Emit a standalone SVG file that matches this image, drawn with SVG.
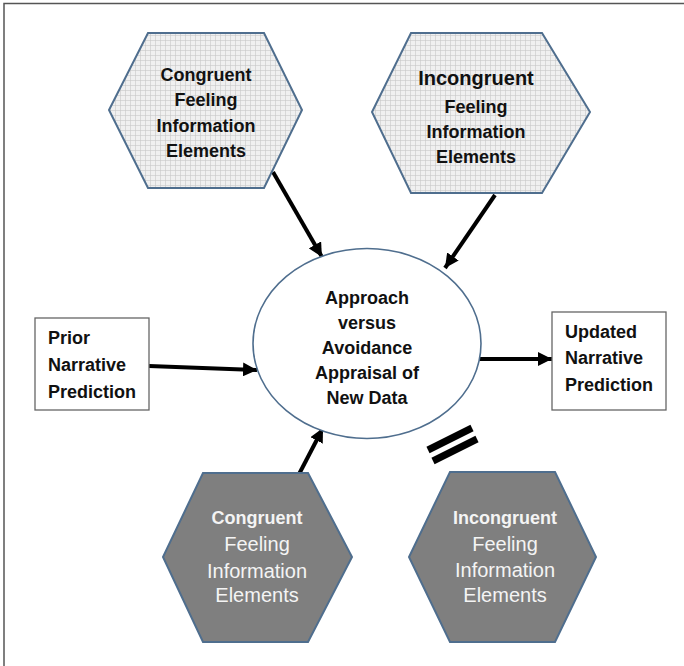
<svg xmlns="http://www.w3.org/2000/svg" width="684" height="666" viewBox="0 0 684 666">
<style>
.t{font-family:"Liberation Sans",Arial,sans-serif;font-size:18px;text-anchor:middle;dominant-baseline:central}
.b{font-weight:bold}
.r{font-size:20px}
.dk{fill:#111}
.wh{fill:#f4f4f4}
.lf{text-anchor:start}
.hexL{fill:url(#grid);stroke:#4f6e8e;stroke-width:2}
.hexD{fill:#7f7f7f;stroke:#4f6e8e;stroke-width:2}
.box{fill:#fff;stroke:#666;stroke-width:1.3}
.arr{stroke:#000;stroke-width:4;fill:none;marker-end:url(#ah)}
</style>
<defs>
<pattern id="grid" width="5" height="5" patternUnits="userSpaceOnUse">
<rect width="5" height="5" fill="#f0f0f0"/>
<path d="M0,0.3H5M0.3,0V5" stroke="#c4c4c4" stroke-width="0.7"/>
</pattern>
<marker id="ah" markerUnits="userSpaceOnUse" markerWidth="16" markerHeight="14" refX="14" refY="7" orient="auto">
<path d="M0,0L14,7L0,14z" fill="#000"/>
</marker>
</defs>
<rect width="684" height="666" fill="#fff"/>
<path d="M4,666V3.5H684" fill="none" stroke="#555" stroke-width="1.5"/>

<g id="connectors">
<line class="arr" x1="273" y1="172" x2="322" y2="257"/>
<line class="arr" x1="495" y1="195" x2="445" y2="268"/>
<line class="arr" x1="149" y1="366" x2="257" y2="370"/>
<line class="arr" x1="465" y1="359" x2="552" y2="359"/>
<line class="arr" x1="297" y1="478" x2="323" y2="428"/>
</g>

<g id="hex-congruent-top">
<polygon class="hexL" points="148,33 264,33 302,110 264,188 148,188 109,110"/>
<text class="t b dk" x="206" y="75">Congruent</text>
<text class="t b dk" x="206" y="100">Feeling</text>
<text class="t b dk" x="206" y="126">Information</text>
<text class="t b dk" x="206" y="151">Elements</text>
</g>

<g id="hex-incongruent-top">
<polygon class="hexL" points="411,33 542,33 590,112 542,193 411,193 372,112"/>
<text class="t b dk" x="476" y="78" style="font-size:20px">Incongruent</text>
<text class="t b dk" x="476" y="107">Feeling</text>
<text class="t b dk" x="476" y="132">Information</text>
<text class="t b dk" x="476" y="157">Elements</text>
</g>

<g id="prior">
<rect class="box" x="35" y="318" width="114" height="92"/>
<text class="t b dk lf" x="48" y="338">Prior</text>
<text class="t b dk lf" x="48" y="365">Narrative</text>
<text class="t b dk lf" x="48" y="392">Prediction</text>
</g>

<g id="appraisal">
<ellipse cx="367" cy="343.5" rx="114" ry="95" fill="#fff" stroke="#4f6e8e" stroke-width="1.6"/>
<text class="t b dk" x="367" y="298">Approach</text>
<text class="t b dk" x="367" y="323">versus</text>
<text class="t b dk" x="367" y="348">Avoidance</text>
<text class="t b dk" x="367" y="373">Appraisal of</text>
<text class="t b dk" x="367" y="398">New Data</text>
</g>

<g id="updated">
<rect class="box" x="552" y="312" width="114" height="98"/>
<text class="t b dk lf" x="565" y="332">Updated</text>
<text class="t b dk lf" x="565" y="358">Narrative</text>
<text class="t b dk lf" x="565" y="385">Prediction</text>
</g>

<g id="hex-congruent-bottom">
<polygon class="hexD" points="203,473 308,473 352,557 308,642 203,642 163,557"/>
<text class="t b wh" x="257" y="518">Congruent</text>
<text class="t r wh" x="257" y="544">Feeling</text>
<text class="t r wh" x="257" y="571">Information</text>
<text class="t r wh" x="257" y="595">Elements</text>
</g>

<g id="equals">
<line x1="428" y1="450" x2="472" y2="428" stroke="#000" stroke-width="7"/>
<line x1="433" y1="461" x2="477" y2="439" stroke="#000" stroke-width="7"/>
</g>

<g id="hex-incongruent-bottom">
<polygon class="hexD" points="450,472 555,472 596,557 555,642 450,642 409,557"/>
<text class="t b wh" x="505" y="518">Incongruent</text>
<text class="t r wh" x="505" y="544">Feeling</text>
<text class="t r wh" x="505" y="570">Information</text>
<text class="t r wh" x="505" y="595">Elements</text>
</g>
</svg>
